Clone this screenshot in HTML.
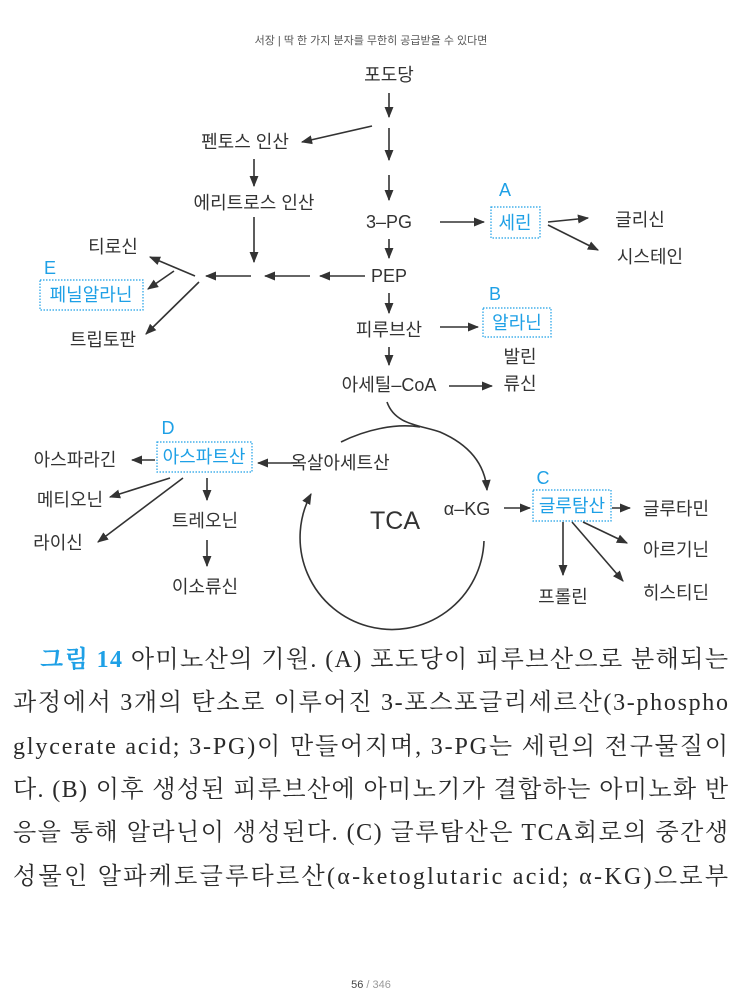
<!DOCTYPE html>
<html><head><meta charset="utf-8"><style>
html,body{margin:0;padding:0;background:#fff;}
svg{display:block;}
.t{font-family:"Liberation Sans","Noto Sans CJK KR",sans-serif;font-size:18px;fill:#333;text-anchor:middle;}
.b{fill:#1ea0e6;}
.c{font-family:"Liberation Serif","Noto Serif CJK SC",serif;font-size:24px;fill:#2a2a2a;}
</style></head><body>
<svg width="743" height="991" viewBox="0 0 743 991" xmlns="http://www.w3.org/2000/svg">
<defs><marker id="a" viewBox="0 0 10 10" refX="9" refY="5" markerWidth="7" markerHeight="7" orient="auto-start-reverse"><path d="M0,1 L10,5 L0,9 z" fill="#333"/></marker></defs>
<text x="371" y="44" style="font-family:'Liberation Sans','Noto Sans CJK KR',sans-serif;font-size:11px;fill:#555;text-anchor:middle">서장 | 딱 한 가지 분자를 무한히 공급받을 수 있다면</text>

<g class="t">
<text x="389" y="81">포도당</text>
<text x="245" y="148">펜토스 인산</text>
<text x="254" y="209">에리트로스 인산</text>
<text x="389" y="228">3–PG</text>
<text x="640" y="226">글리신</text>
<text x="650" y="263">시스테인</text>
<text x="113" y="253">티로신</text>
<text x="103" y="346">트립토판</text>
<text x="389" y="282">PEP</text>
<text x="389" y="336">피루브산</text>
<text x="520" y="363">발린</text>
<text x="389" y="391">아세틸–CoA</text>
<text x="520" y="390">류신</text>
<text x="75" y="466">아스파라긴</text>
<text x="340" y="469">옥살아세트산</text>
<text x="70" y="506">메티오닌</text>
<text x="205" y="527">트레오닌</text>
<text x="58" y="549">라이신</text>
<text x="205" y="593">이소류신</text>
<text x="395" y="529" style="font-size:25px">TCA</text>
<text x="467" y="515">α–KG</text>
<text x="676" y="515">글루타민</text>
<text x="676" y="556">아르기닌</text>
<text x="676" y="599">히스티딘</text>
<text x="563" y="603">프롤린</text>
<text class="b" x="505" y="196">A</text>
<text class="b" x="515" y="229">세린</text>
<text class="b" x="50" y="274">E</text>
<text class="b" x="91" y="301">페닐알라닌</text>
<text class="b" x="495" y="300">B</text>
<text class="b" x="517" y="329">알라닌</text>
<text class="b" x="168" y="434">D</text>
<text class="b" x="204" y="463">아스파트산</text>
<text class="b" x="543" y="484">C</text>
<text class="b" x="572" y="512">글루탐산</text>
</g>
<g fill="none" stroke="#1ea0e6" stroke-width="1.2" stroke-dasharray="1.5,1.5">
<rect x="491" y="207" width="49" height="31"/>
<rect x="40" y="280" width="103" height="30"/>
<rect x="483" y="308" width="68" height="29"/>
<rect x="157" y="442" width="95" height="30"/>
<rect x="533" y="490" width="78" height="31"/>
</g>
<g stroke="#333" stroke-width="1.6" fill="none" marker-end="url(#a)">
<line x1="389" y1="93" x2="389" y2="117"/>
<line x1="389" y1="128" x2="389" y2="160"/>
<line x1="389" y1="175" x2="389" y2="200"/>
<line x1="389" y1="239" x2="389" y2="258"/>
<line x1="389" y1="293" x2="389" y2="313"/>
<line x1="389" y1="347" x2="389" y2="365"/>
<line x1="372" y1="126" x2="302" y2="142"/>
<line x1="254" y1="159" x2="254" y2="186"/>
<line x1="254" y1="217" x2="254" y2="262"/>
<line x1="365" y1="276" x2="320" y2="276"/>
<line x1="310" y1="276" x2="265" y2="276"/>
<line x1="251" y1="276" x2="206" y2="276"/>
<line x1="195" y1="276" x2="150" y2="257"/>
<line x1="174" y1="271" x2="148" y2="289"/>
<line x1="199" y1="282" x2="146" y2="334"/>
<line x1="440" y1="222" x2="484" y2="222"/>
<line x1="548" y1="222" x2="588" y2="218"/>
<line x1="548" y1="225" x2="598" y2="250"/>
<line x1="440" y1="327" x2="478" y2="327"/>
<line x1="449" y1="386" x2="492" y2="386"/>
<line x1="297" y1="463" x2="258" y2="463"/>
<line x1="155" y1="460" x2="132" y2="460"/>
<line x1="170" y1="478" x2="110" y2="497"/>
<line x1="183" y1="478" x2="98" y2="542"/>
<line x1="207" y1="478" x2="207" y2="500"/>
<line x1="207" y1="540" x2="207" y2="566"/>
<line x1="504" y1="508" x2="530" y2="508"/>
<line x1="612" y1="508" x2="630" y2="508"/>
<line x1="563" y1="522" x2="563" y2="575"/>
<line x1="583" y1="522" x2="627" y2="543"/>
<line x1="572" y1="522" x2="623" y2="581"/>
<path d="M387,402 C395,425 420,425 440,432 C470,445 485,465 487,490"/>
<path d="M484,541 A92,92 0 1,1 311,494"/>
</g>
<path d="M341,442 C365,430 395,423 420,427" stroke="#333" stroke-width="1.6" fill="none"/>

<g class="c">
<text x="40" y="667" textLength="688" lengthAdjust="spacing"><tspan style="fill:#1ea0e6;font-weight:bold">그림 14</tspan> 아미노산의 기원. (A) 포도당이 피루브산으로 분해되는</text>
<text x="13" y="710" textLength="715" lengthAdjust="spacing">과정에서 3개의 탄소로 이루어진 3-포스포글리세르산(3-phospho</text>
<text x="13" y="754" textLength="715" lengthAdjust="spacing">glycerate acid; 3-PG)이 만들어지며, 3-PG는 세린의 전구물질이</text>
<text x="13" y="797" textLength="715" lengthAdjust="spacing">다. (B) 이후 생성된 피루브산에 아미노기가 결합하는 아미노화 반</text>
<text x="13" y="840" textLength="715" lengthAdjust="spacing">응을 통해 알라닌이 생성된다. (C) 글루탐산은 TCA회로의 중간생</text>
<text x="13" y="884" textLength="715" lengthAdjust="spacing">성물인 알파케토글루타르산(α-ketoglutaric acid; α-KG)으로부</text>
</g>
<text x="371" y="988" style="font-family:'Liberation Sans',sans-serif;font-size:11px;fill:#999;text-anchor:middle"><tspan fill="#444">56</tspan> / 346</text>
</svg>
</body></html>
